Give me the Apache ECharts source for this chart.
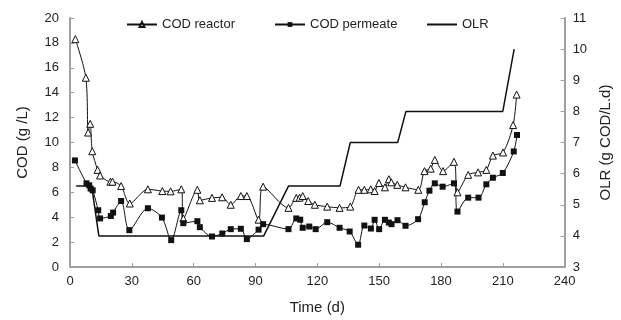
<!DOCTYPE html>
<html>
<head>
<meta charset="utf-8">
<script src="https://cdn.jsdelivr.net/npm/echarts@6/dist/echarts.min.js"></script>
<style>html,body{margin:0;padding:0;background:#fff}#c{width:621px;height:320px}</style>
</head>
<body>
<div id="c"></div>
<script>
var reactorDays = [2.6,7.7,8.8,9.8,10.8,13.4,14.6,19.6,20.6,24.8,29,37.8,44.8,48.8,54,55,61.8,63,68.9,73.8,78,82.9,85.8,91.5,93.7,106,109.8,111.4,112.9,115.6,118.8,124.8,130.8,136,140,142.8,145.9,147.8,149.9,152.8,154.7,155.9,158.8,162.8,169,172,175,177,181,186.3,188,193.2,198,202,205.2,210.1,215,216.7];
var reactorCOD = [18.3,15.2,10.8,11.5,9.3,7.8,7.35,6.85,6.85,6.5,5.1,6.24,6.1,6.08,6.24,3.9,6.2,5.36,5.55,5.6,5.0,5.7,5.7,3.8,6.45,4.75,5.55,5.57,5.7,5.3,5.0,4.85,4.75,4.85,6.2,6.2,6.24,6.1,6.75,6.4,7.05,6.8,6.6,6.4,6.2,7.7,7.9,8.6,7.7,8.45,6.0,7.4,7.6,7.8,8.95,9.2,11.4,13.85];
var permeateDays = [2.4,8,9.3,10,11,13.7,14.6,19.8,20.9,24.8,28.8,37.8,44.6,49.1,54,55,61.8,63,68.9,73.9,78,82.9,85.8,91.5,93.7,106,109.8,111.7,112.9,116.1,119.2,124.8,130.8,135.7,139.8,142.8,146,147.8,150,152.8,154.7,156,158.9,162.8,168.9,172.1,174.4,177,180.8,186.3,188,193.2,198.2,202,205.2,210,215.3,216.9];
var permeateCOD = [8.56,6.72,6.56,6.3,6.16,4.56,3.9,4.1,4.37,5.3,2.96,4.72,3.97,2.16,4.56,3.52,3.68,3.2,2.45,2.69,3.04,3.07,2.24,3.0,3.44,3.04,3.9,3.8,3.15,3.25,3.04,3.6,3.15,2.85,1.79,3.33,3.09,3.79,3.04,3.79,3.57,3.44,3.76,3.31,3.84,5.2,6.13,6.72,6.45,6.72,4.45,5.57,5.57,6.64,7.17,7.55,9.28,10.6];
var olrDays = [3,10.5,14,94,106,131,136,159,163,210,215.5];
var olrValues = [5.6,5.6,4,4,5.6,5.6,7,7,8,8,10];
var xTicks = [0,30,60,90,120,150,180,210,240];
var leftTicks = [0,2,4,6,8,10,12,14,16,18,20];
var rightTicks = [3,4,5,6,7,8,9,10,11];

function pairs(xs, ys){ return xs.map(function(x,i){ return [x, ys[i]]; }); }

var FONT = 'Liberation Sans, Arial, sans-serif';
var axisGray = '#a0a0a0';
var textCol = '#222';

var chart = echarts.init(document.getElementById('c'), null, {renderer:'canvas'});
var legendBase = {
  top: 13, itemWidth: 30, itemHeight: 6, itemGap: 10,
  textStyle: {fontFamily: FONT, fontSize: 13, color: textCol}
};
chart.setOption({
  animation: false,
  backgroundColor: '#fff',
  grid: {left: 70, right: 54, top: 18, bottom: 52},
  legend: [
    Object.assign({}, legendBase, {left: 121, data: ['COD reactor']}),
    Object.assign({}, legendBase, {left: 269, data: ['COD permeate']}),
    Object.assign({}, legendBase, {left: 421, data: [{name: 'OLR', itemStyle: {opacity: 0}}]})
  ],
  xAxis: {
    type: 'value', min: xTicks[0], max: xTicks[xTicks.length-1], interval: 30,
    name: 'Time (d)', nameLocation: 'middle', nameGap: 33,
    nameTextStyle: {fontFamily: FONT, fontSize: 15, color: textCol},
    axisLine: {show: true, lineStyle: {color: axisGray, width: 2}},
    axisTick: {show: true, inside: true, length: 4, lineStyle: {color: axisGray}},
    axisLabel: {fontFamily: FONT, fontSize: 13, color: textCol, margin: 8},
    splitLine: {show: false}
  },
  yAxis: [{
    type: 'value', min: leftTicks[0], max: leftTicks[leftTicks.length-1], interval: 2,
    name: 'COD (g /L)', nameLocation: 'middle', nameGap: 40,
    nameTextStyle: {fontFamily: FONT, fontSize: 15, color: textCol},
    axisLine: {show: true, lineStyle: {color: axisGray, width: 2}},
    axisTick: {show: true, inside: true, length: 4, lineStyle: {color: axisGray}},
    axisLabel: {fontFamily: FONT, fontSize: 13, color: textCol, margin: 11},
    splitLine: {show: false}
  },{
    type: 'value', position: 'right', min: rightTicks[0], max: rightTicks[rightTicks.length-1], interval: 1,
    name: 'OLR (g COD/L.d)', nameLocation: 'middle', nameGap: 30, nameRotate: 90,
    nameTextStyle: {fontFamily: FONT, fontSize: 15, color: textCol},
    axisLine: {show: true, lineStyle: {color: axisGray, width: 2}},
    axisTick: {show: true, inside: true, length: 4, lineStyle: {color: axisGray}},
    axisLabel: {fontFamily: FONT, fontSize: 13, color: textCol, margin: 8},
    splitLine: {show: false}
  }],
  series: [{
    name: 'COD reactor', type: 'line', yAxisIndex: 0,
    data: pairs(reactorDays, reactorCOD), smooth: 0.3,
    symbol: 'triangle', symbolSize: 7, showAllSymbol: true,
    lineStyle: {color: '#111', width: 1},
    itemStyle: {color: '#fff', borderColor: '#111', borderWidth: 1}
  },{
    name: 'COD permeate', type: 'line', yAxisIndex: 0,
    data: pairs(permeateDays, permeateCOD), smooth: 0.3,
    symbol: 'rect', symbolSize: 6, showAllSymbol: true,
    lineStyle: {color: '#111', width: 1},
    itemStyle: {color: '#111', borderColor: '#111', borderWidth: 0}
  },{
    name: 'OLR', type: 'line', yAxisIndex: 1,
    data: pairs(olrDays, olrValues), symbol: 'none',
    lineStyle: {color: '#111', width: 1.5},
    itemStyle: {color: '#111'}
  }]
});
</script>
</body>
</html>
